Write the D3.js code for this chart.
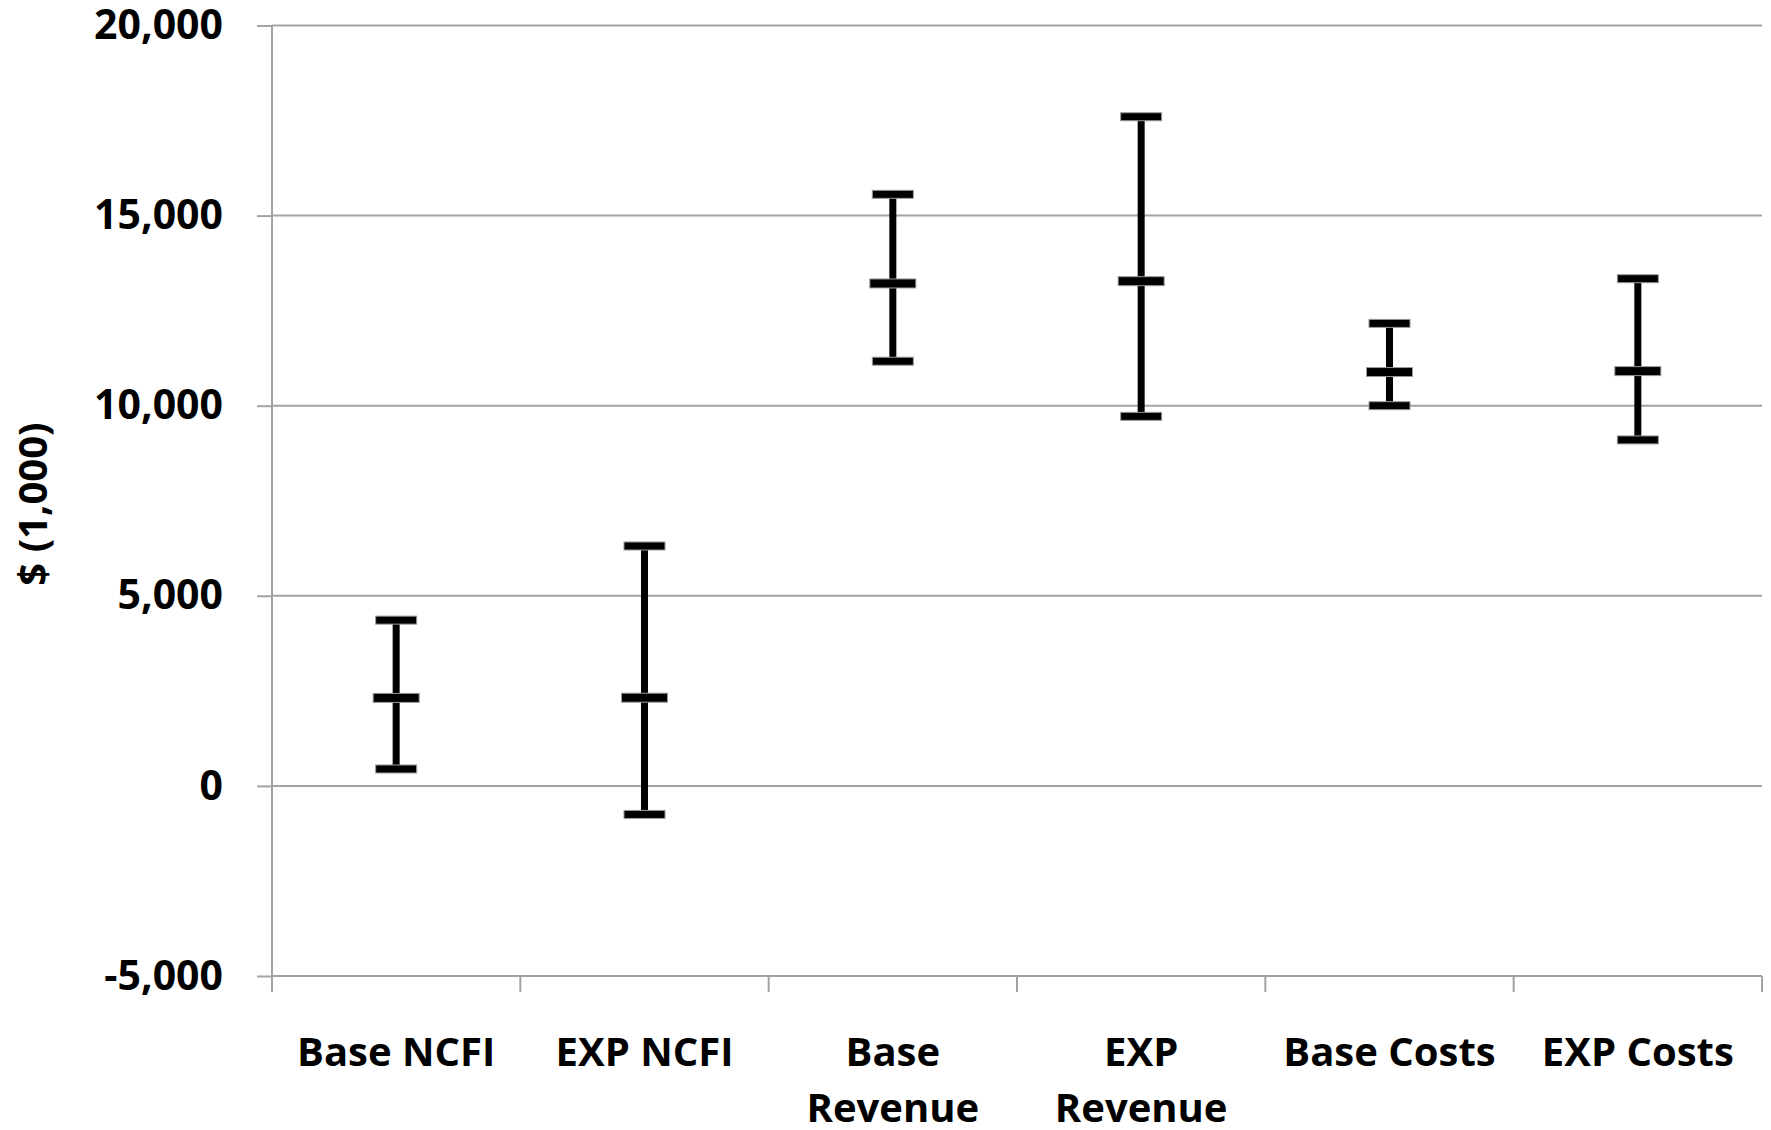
<!doctype html>
<html lang="en">
<head>
<meta charset="utf-8">
<title>Range chart</title>
<script src="https://cdn.jsdelivr.net/npm/d3@7"></script>
<style>
  body { margin: 0; background: #fff; }
  text { font-family: "Open Sans", sans-serif; font-weight: 700; fill: #000; }
</style>
</head>
<body>
<svg id="chart" width="1771" height="1130"></svg>
<script>
// values, $ (1,000)
var categories = ["Base NCFI", "EXP NCFI", "Base\nRevenue", "EXP\nRevenue", "Base Costs", "EXP Costs"];
var highs = [4360, 6310, 15560, 17600, 12165, 13340];
var mids  = [2315, 2320, 13215, 13275, 10885, 10910];
var lows  = [445, -750, 11170, 9720, 10000, 9100];
var yTicks = [-5000, 0, 5000, 10000, 15000, 20000];

var W = 1771, H = 1130;
var plot = { left: 272, right: 1762, top: 25.5, bottom: 976 };
var tickLen = 15;

var svg = d3.select("#chart");

var x = d3.scaleBand().domain(categories).range([plot.left, plot.right]).padding(0);
var y = d3.scaleLinear().domain([-5000, 20000]).range([plot.bottom, plot.top]);

var fmt = d3.formatLocale({ decimal: ".", thousands: ",", grouping: [3], currency: ["$", ""], minus: "-" }).format(",");

// gridlines
svg.append("g").selectAll("line")
  .data(yTicks)
  .join("line")
  .attr("x1", plot.left).attr("x2", plot.right)
  .attr("y1", function(d) { return y(d); }).attr("y2", function(d) { return y(d); })
  .attr("stroke", "#a3a3a3").attr("stroke-width", 2);

// y axis
var yAxis = svg.append("g")
  .attr("transform", "translate(" + plot.left + ",0)")
  .call(d3.axisLeft(y).tickValues(yTicks).tickFormat(fmt).tickSize(tickLen).tickPadding(34));
yAxis.select(".domain").remove();
yAxis.selectAll(".tick line").attr("stroke", "#a3a3a3").attr("stroke-width", 2);
yAxis.selectAll(".tick text").attr("font-size", 41).attr("font-family", "Open Sans").attr("font-weight", 700).attr("fill", "#000");

// vertical axis line, runs down to the bottom tick ends
svg.append("line")
  .attr("x1", plot.left).attr("x2", plot.left)
  .attr("y1", plot.top).attr("y2", plot.bottom + tickLen + 1)
  .attr("stroke", "#a3a3a3").attr("stroke-width", 2);

// category boundary ticks
var bounds = categories.map(function(c) { return x(c) + x.bandwidth(); });
svg.append("g").selectAll("line")
  .data(bounds)
  .join("line")
  .attr("x1", function(d) { return d; }).attr("x2", function(d) { return d; })
  .attr("y1", plot.bottom).attr("y2", plot.bottom + tickLen + 1)
  .attr("stroke", "#a3a3a3").attr("stroke-width", 2);

// category labels
var labels = svg.append("g").selectAll("text")
  .data(categories)
  .join("text")
  .attr("text-anchor", "middle")
  .attr("font-size", 40)
  .attr("x", function(d) { return x(d) + x.bandwidth() / 2; })
  .attr("y", 1066);
labels.each(function(d) {
  var t = d3.select(this);
  d.split("\n").forEach(function(line, i) {
    t.append("tspan")
      .attr("x", x(d) + x.bandwidth() / 2)
      .attr("dy", i === 0 ? 0 : 56)
      .text(line);
  });
});

// axis title
svg.append("text")
  .attr("transform", "translate(47,504) rotate(-90)")
  .attr("text-anchor", "middle")
  .attr("font-size", 40)
  .text("$ (1,000)");

// high-low-close bars
var rows = categories.map(function(c, i) { return { cat: c, hi: highs[i], mid: mids[i], lo: lows[i] }; });
var bars = svg.append("g").selectAll("g")
  .data(rows)
  .join("g")
  .attr("transform", function(d) { return "translate(" + (x(d.cat) + x.bandwidth() / 2) + ",0)"; });

bars.append("line")
  .attr("x1", 0).attr("x2", 0)
  .attr("y1", function(d) { return y(d.hi); })
  .attr("y2", function(d) { return y(d.lo); })
  .attr("stroke", "#000").attr("stroke-width", 7);

function cap(sel, key, w, h) {
  sel.append("rect")
    .attr("x", -w / 2).attr("width", w)
    .attr("y", function(d) { return y(d[key]) - h / 2; })
    .attr("height", h)
    .attr("fill", "#000")
    .attr("stroke", "#9a9a9a").attr("stroke-width", 1);
}
cap(bars, "hi", 41, 8);
cap(bars, "lo", 41, 8);
cap(bars, "mid", 46, 9);
</script>
</body>
</html>
